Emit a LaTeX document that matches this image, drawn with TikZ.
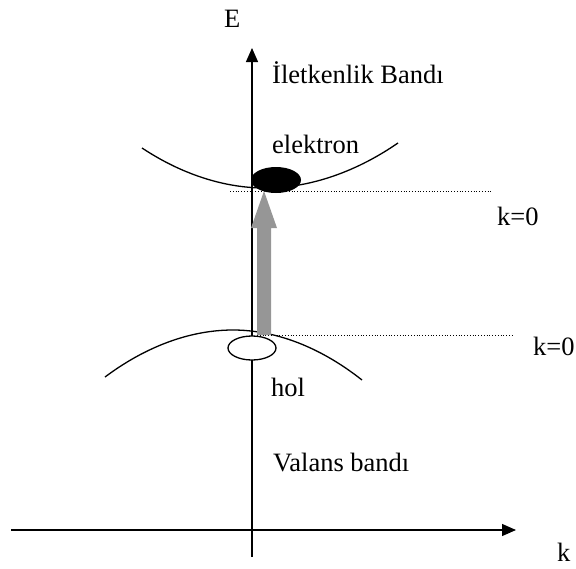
\documentclass[tikz,border=0pt]{standalone}
\usepackage{fontspec}
\setmainfont{Liberation Serif}
\usetikzlibrary{arrows.meta}
\definecolor{arrowgray}{RGB}{150,150,150}
\begin{document}
\begin{tikzpicture}[x=1pt,y=-1pt,
  lbl/.style={anchor=base west,inner sep=0pt,font=\fontsize{26.5}{30}\selectfont},
  axis/.style={line width=1.3pt,-{Triangle[length=14pt,width=12pt]}},
  band/.style={line width=1.3pt},
  dotline/.style={line width=0.8pt,dash pattern=on 0.8pt off 2pt}]
\useasboundingbox (0,0) rectangle (576,568);
% coordinates
\coordinate (ybot) at (252,557);
\coordinate (ytop) at (252,48);
\coordinate (xl) at (11,530);
\coordinate (xr) at (516,530);
\coordinate (d1a) at (230,191);
\coordinate (d1b) at (493,191);
\coordinate (d2a) at (257,335);
\coordinate (d2b) at (513,335);
% axes
\draw[axis] (ybot) -- (ytop);
\draw[axis] (xl) -- (xr);
% dotted lines
\draw[dotline] (d1a) -- (d1b);
\draw[dotline] (d2a) -- (d2b);
% bands
\draw[band] (142,148) parabola bend (265,188) (398,143);
\draw[band] (105,377) parabola bend (233,330) (362,380);
% electron and hole
\fill[black] (276,180) ellipse [x radius=25, y radius=13];
\draw[band,fill=white] (252,348) ellipse [x radius=24, y radius=12];
% excitation arrow
\fill[arrowgray] (257,335) -- (257,228) -- (251,228) -- (264,191) -- (277,228) -- (271,228) -- (271,335) -- cycle;
% labels
\node[lbl] (E) at (224,27) {E};
\node[lbl] (ib) at (272,83) {İletkenlik Bandı};
\node[lbl] (el) at (272,153) {elektron};
\node[lbl] (k1) at (497,225) {k=0};
\node[lbl] (k2) at (533,355) {k=0};
\node[lbl] (hol) at (271,396) {hol};
\node[lbl] (vb) at (273,471) {Valans bandı};
\node[lbl] (k) at (557,561) {k};
\end{tikzpicture}
\end{document}
